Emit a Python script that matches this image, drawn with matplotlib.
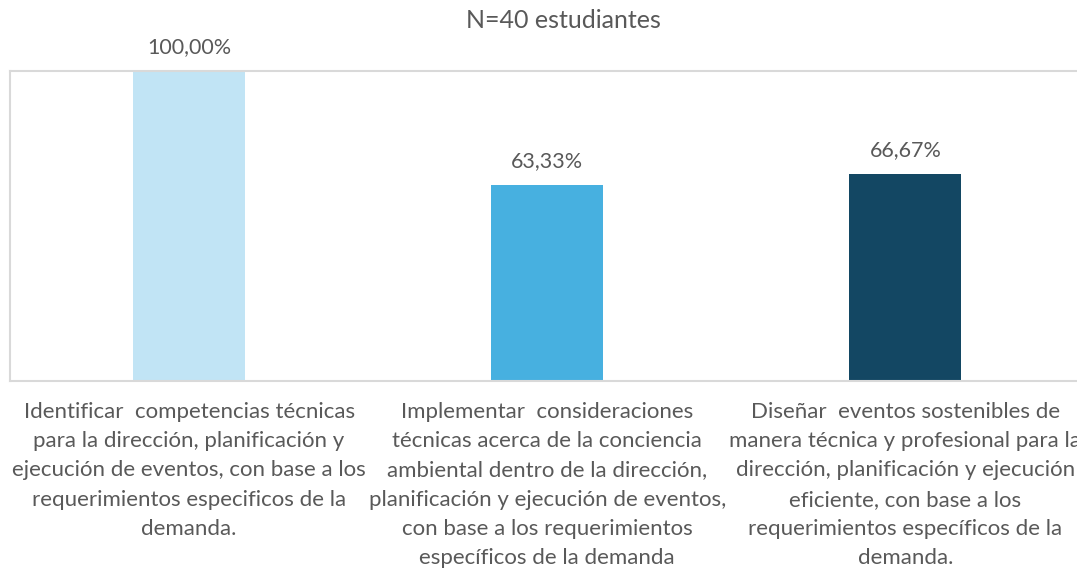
import matplotlib
matplotlib.use('Agg')
import matplotlib.pyplot as plt

categories = [
    'Identificar  competencias técnicas\npara la dirección, planificación y\nejecución de eventos, con base a los\nrequerimientos especificos de la\ndemanda.',
    'Implementar  consideraciones\ntécnicas acerca de la conciencia\nambiental dentro de la dirección,\nplanificación y ejecución de eventos,\ncon base a los requerimientos\nespecíficos de la demanda',
    'Diseñar  eventos sostenibles de\nmanera técnica y profesional para la\ndirección, planificación y ejecución\neficiente, con base a los\nrequerimientos específicos de la\ndemanda.',
]
values = [100.00, 63.33, 66.67]
bar_colors = ['#C1E4F5', '#47B0E0', '#134763']
title = 'N=40 estudiantes'

plt.rcParams['font.family'] = ['Lato', 'DejaVu Sans']
text_color = '#595959'

fig = plt.figure(figsize=(10.77, 5.70), dpi=100)
# axes in pixel terms: left 10, right ~1084 (cut by the edge like the original), bottom 381, top 71
ax = fig.add_axes([10 / 1077, 1 - 381 / 570, 1074.5 / 1077, 310 / 570])

x = list(range(len(values)))
bars = ax.bar(x, values, width=0.313, color=bar_colors)
ax.set_xlim(-0.5, 2.5)
ax.set_ylim(0, 100)

for b, v in zip(bars, values):
    ax.annotate(f'{v:.2f}%'.replace('.', ','), (b.get_x() + b.get_width() / 2, v),
                xytext=(0, 10), textcoords='offset points', ha='center', va='bottom',
                fontsize=15.5, color=text_color, annotation_clip=False)

ax.set_xticks(x)
ax.set_xticklabels(categories, fontsize=16, color=text_color, linespacing=1.58)
ax.tick_params(axis='x', length=0, pad=15)
ax.set_yticks([])
for s in ax.spines.values():
    s.set_color('#D9D9D9')
    s.set_linewidth(1.5)

fig.text(563 / 1077, 1 - 20 / 570, title, ha='center', va='center', fontsize=18, color=text_color)

fig.savefig('out.png', dpi=100)
